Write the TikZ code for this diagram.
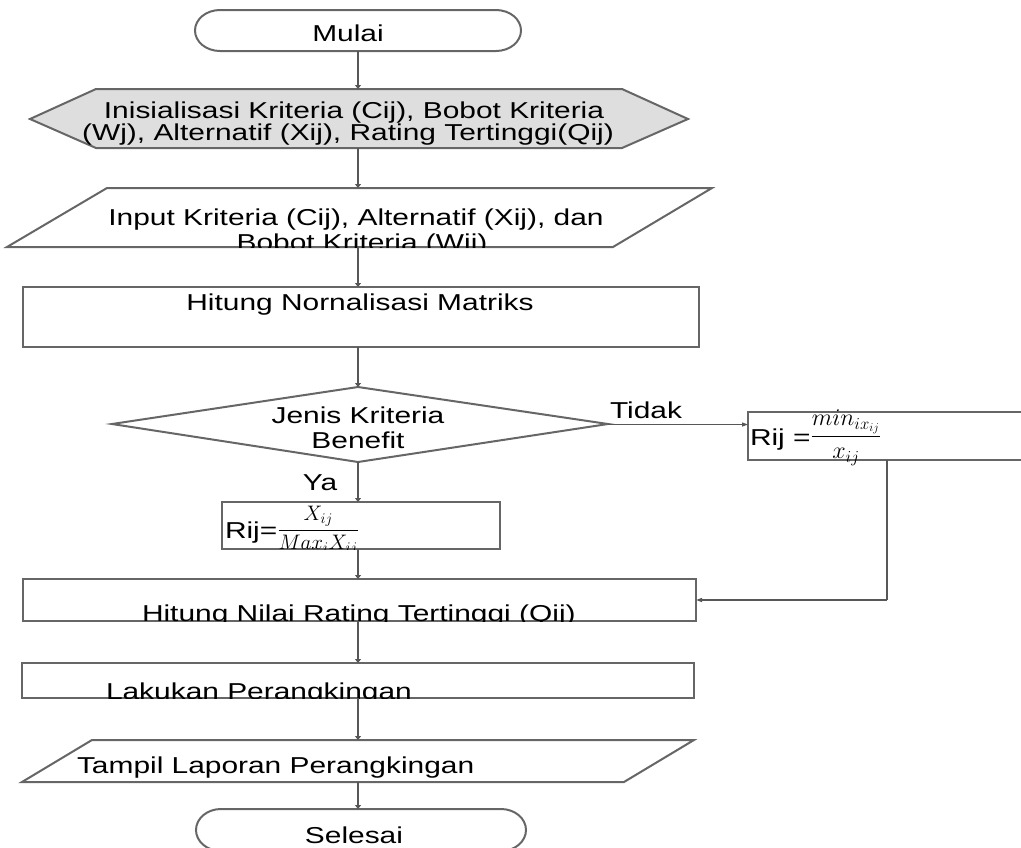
\documentclass[tikz,border=0pt]{standalone}
\usepackage{fix-cm}
\usepackage{fontspec}
\setmainfont{Liberation Sans}[FakeStretch=1.3]
\usetikzlibrary{arrows.meta}
\definecolor{edgegray}{HTML}{666666}
\definecolor{flowgray}{HTML}{575757}
\definecolor{hexfill}{HTML}{DEDEDE}
\begin{document}
\begin{tikzpicture}[x=1pt,y=-1pt,
  shp/.style={draw=edgegray,line width=2pt,line join=miter},
  flow/.style={draw=flowgray,line width=2.6pt,-{Triangle[length=4pt,width=6pt]}},
  thinflow/.style={draw=flowgray,line width=1.2pt,-{Triangle[length=6pt,width=4pt]}},
  bnd/.style={rectangle,draw=none,inner sep=0pt,outer sep=0pt},
  txt/.style={inner sep=0pt,outer sep=0pt,font=\fontsize{23}{23}\selectfont}]
\useasboundingbox (0,0) rectangle (1021,847);

% ---------- bounding nodes (for connectors) ----------
\node[bnd,minimum width=326pt,minimum height=41pt] (mulai) at (358,30.5) {};
\node[bnd,minimum width=658pt,minimum height=59pt] (init) at (358,118.5) {};
\node[bnd,minimum width=705pt,minimum height=59pt] (input) at (358,217.5) {};
\node[bnd,minimum width=676pt,minimum height=60pt] (norm) at (358,317) {};
\node[bnd,minimum width=500pt,minimum height=75pt] (jenis) at (358,424.5) {};
\node[bnd,minimum width=273pt,minimum height=48pt] (rmin) at (884.5,436) {};
\node[bnd,minimum width=278pt,minimum height=47pt] (rmax) at (358,525.5) {};
\node[bnd,minimum width=676pt,minimum height=42pt] (hnilai) at (358,600) {};
\node[bnd,minimum width=672pt,minimum height=35pt] (rank) at (358,680.5) {};
\node[bnd,minimum width=672pt,minimum height=42pt] (tampil) at (358,761) {};
\node[bnd,minimum width=330pt,minimum height=42pt] (selesai) at (358,830) {};
\coordinate (turn) at (887,600);

% ---------- shapes ----------
\draw[shp] (220,10) -- (496,10)
  arc[start angle=90,end angle=-90,x radius=25pt,y radius=20.5pt]
  -- (220,51)
  arc[start angle=270,end angle=90,x radius=25pt,y radius=20.5pt] -- cycle;
\draw[shp,fill=hexfill] (30,119) -- (96,89) -- (622,89) -- (688,119) -- (622,148) -- (96,148) -- cycle;
\draw[shp] (107,188) -- (712,188) -- (613,247) -- (7,247) -- cycle;
\draw[shp] (23,287) rectangle (699,347);
\draw[shp] (358,387) -- (608,424) -- (358,462) -- (112,424) -- cycle;
\draw[shp] (1021,412) -- (748,412) -- (748,460) -- (1021,460);
\draw[shp] (222,502) rectangle (500,549);
\draw[shp] (23,579) rectangle (696,621);
\draw[shp] (22,663) rectangle (694,698);
\draw[shp] (92,740) -- (694,740) -- (624,782) -- (22,782) -- cycle;
\draw[shp] (221,809) -- (501,809)
  arc[start angle=90,end angle=-90,x radius=25pt,y radius=21pt]
  -- (221,851)
  arc[start angle=270,end angle=90,x radius=25pt,y radius=21pt] -- cycle;

% ---------- texts ----------
\node[txt,anchor=base] (tmulai) at (348,41) {Mulai};
\node[txt,anchor=base] (tinit1) at (354,118) {Inisialisasi Kriteria (Cij), Bobot Kriteria};
\node[txt,anchor=base] (tinit2) at (348,140) {(Wj), Alternatif (Xij), Rating Tertinggi(Qij)};
\node[txt,anchor=base] (tinput1) at (356,225) {Input Kriteria (Cij), Alternatif (Xij), dan};
\begin{scope}
  \clip (107,188) -- (712,188) -- (613,247) -- (7,247) -- cycle;
  \node[txt,anchor=base] (tinput2) at (362,250) {Bobot Kriteria (Wij)};
\end{scope}
\node[txt,anchor=base] (tnorm) at (360,310) {Hitung Nornalisasi Matriks};
\node[txt,anchor=base] (tjenis1) at (358,423) {Jenis Kriteria};
\node[txt,anchor=base] (tjenis2) at (358,448) {Benefit};
\node[txt,anchor=base] (ttidak) at (646,418) {Tidak};
\node[txt,anchor=base] (tya) at (320,490) {Ya};
\node[txt,anchor=base west] (trmin) at (750,445)
  {Rij =\raisebox{3pt}{\fontsize{24}{24}\selectfont$\displaystyle\frac{min_{ix_{ij}}}{x_{ij}}$}};
\begin{scope}
  \clip (222,502) rectangle (500,549);
  \node[txt,anchor=base west] (trmax) at (225,538)
    {Rij=\raisebox{3pt}{\fontsize{21}{21}\selectfont$\displaystyle\frac{X_{ij}}{Max_iX_{ij}}$}};
\end{scope}
\begin{scope}
  \clip (23,579) rectangle (696,621);
  \node[txt,anchor=base west] (thnilai) at (142,621) {Hitung Nilai Rating Tertinggi (Qij)};
\end{scope}
\begin{scope}
  \clip (22,663) rectangle (694,698);
  \node[txt,anchor=base west] (trank) at (106,699) {Lakukan Perangkingan};
\end{scope}
\node[txt,anchor=base west] (ttampil) at (77,773) {Tampil Laporan Perangkingan};
\node[txt,anchor=base] (tselesai) at (354,843) {Selesai};

% ---------- connectors ----------
\draw[flow] (mulai) -- (init);
\draw[flow] (init) -- (input);
\draw[flow] (input) -- (norm);
\draw[flow] (norm) -- (jenis);
\draw[flow] (jenis) -- (rmax);
\draw[flow] (rmax) -- (hnilai);
\draw[flow] (hnilai) -- (rank);
\draw[flow] (rank) -- (tampil);
\draw[flow] (tampil) -- (selesai);
\draw[thinflow] (jenis.east) -- (jenis.east -| rmin.west);
\draw[draw=flowgray,line width=2.6pt] (rmin.south -| turn) -- (turn);
\draw[thinflow] (turn) -- (turn -| hnilai.east);
\end{tikzpicture}
\end{document}
